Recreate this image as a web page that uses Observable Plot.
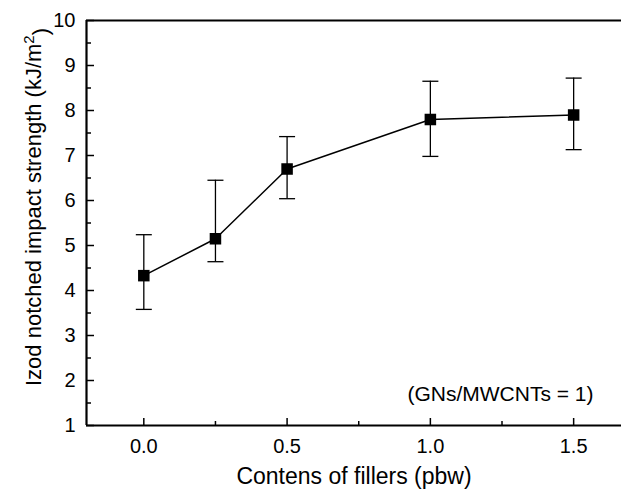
<!DOCTYPE html>
<html><head><meta charset="utf-8">
<script src="https://cdn.jsdelivr.net/npm/d3@7"></script>
<script src="https://cdn.jsdelivr.net/npm/@observablehq/plot@0.6"></script>
<style>
body{margin:0;background:#fff}
svg{font-family:"Liberation Sans",Arial,sans-serif}
</style>
</head><body><div id="chart"></div>
<script>
const fillers  = [0, 0.25, 0.5, 1.0, 1.5];
const strength = [4.33, 5.15, 6.70, 7.80, 7.90];
const upper    = [5.24, 6.45, 7.42, 8.65, 8.72];
const lower    = [3.58, 4.64, 6.04, 6.98, 7.13];
const xTicks = [0, 0.5, 1.0, 1.5];
const xMinor = [0.25, 0.75, 1.25];
const yTicks = [1, 2, 3, 4, 5, 6, 7, 8, 9, 10];
const yMinor = [1.5, 2.5, 3.5, 4.5, 5.5, 6.5, 7.5, 8.5, 9.5];
const xDomain = [-0.2, 1.667];
const yDomain = [1, 10];
const xLabel = "Contens of fillers (pbw)";
const yLabelMain = "Izod notched impact strength (kJ/m";
const yLabelSup = "2";
const yLabelEnd = ")";
const note = "(GNs/MWCNTs = 1)";

const data = fillers.map((x, i) => ({x, y: strength[i], hi: upper[i], lo: lower[i]}));
const cap = {draw(ctx, size) { const w = Math.sqrt(size / Math.PI); ctx.moveTo(-w, 0); ctx.lineTo(w, 0); }};

const chart = Plot.plot({
  width: 621, height: 497,
  marginLeft: 86, marginRight: 0, marginTop: 20, marginBottom: 72,
  x: {domain: xDomain},
  y: {domain: yDomain},
  style: {fontFamily: "'Liberation Sans', Arial, sans-serif", fontSize: "20px", color: "black", background: "white", overflow: "visible"},
  marks: [
    Plot.axisY(yTicks, {tickSize: 8, dx: 8, fill: "none", label: null, strokeWidth: 1.5}),
    Plot.axisY(yMinor, {tickSize: 5, dx: 5, fill: "none", label: null, strokeWidth: 1.5}),
    Plot.axisY(yTicks, {tickSize: 0, tickPadding: 11, stroke: "none", label: null, fontSize: 20}),
    Plot.axisX(xTicks, {tickSize: 7, dy: -7, fill: "none", label: null, strokeWidth: 1.5}),
    Plot.axisX(xMinor, {tickSize: 4, dy: -4, fill: "none", label: null, strokeWidth: 1.5}),
    Plot.axisX(xTicks, {tickSize: 0, tickPadding: 13, stroke: "none", label: null, fontSize: 20, tickFormat: d3.format(".1f")}),
    Plot.ruleX([xDomain[0]], {stroke: "black", strokeWidth: 2.2}),
    Plot.ruleY([yDomain[0], yDomain[1]], {stroke: "black", strokeWidth: 2.2}),
    Plot.ruleX(data, {x: "x", y1: "lo", y2: "hi", stroke: "black", strokeWidth: 1.3}),
    Plot.dot(data, {x: "x", y: "hi", symbol: cap, r: 8, stroke: "black", fill: "none", strokeWidth: 1.3}),
    Plot.dot(data, {x: "x", y: "lo", symbol: cap, r: 8, stroke: "black", fill: "none", strokeWidth: 1.3}),
    Plot.line(data, {x: "x", y: "y", stroke: "black", strokeWidth: 1.5}),
    Plot.dot(data, {x: "x", y: "y", symbol: "square", r: 6.5, fill: "black", stroke: "none"}),
    Plot.text([note], {frameAnchor: "bottom-right", dx: -28, dy: -25, textAnchor: "end", lineAnchor: "bottom", fontSize: 21, fill: "black"}),
    Plot.text([xLabel], {frameAnchor: "bottom", dy: 58, textAnchor: "middle", lineAnchor: "bottom", fontSize: 23, fill: "black"}),
    Plot.text([yLabelMain + yLabelSup + yLabelEnd], {frameAnchor: "left", rotate: -90, dx: -46, dy: -16, textAnchor: "middle", lineAnchor: "bottom", fontSize: 22, fill: "black", className: "ylab"})
  ]
});
// superscript in the y-axis title
d3.select(chart).selectAll(".ylab text").each(function() {
  const t = d3.select(this);
  t.text(null);
  t.append("tspan").text(yLabelMain);
  t.append("tspan").attr("dy", "-0.42em").attr("font-size", "0.68em").text(yLabelSup);
  t.append("tspan").attr("dy", "0.62em").text(yLabelEnd);
});
document.getElementById("chart").append(chart);
</script>
</body></html>
